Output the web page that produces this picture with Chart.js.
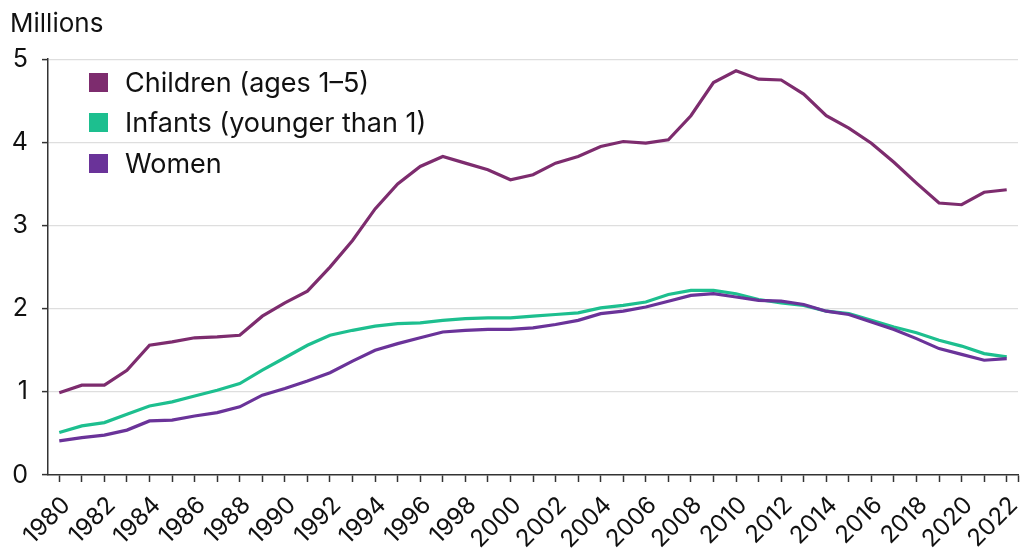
<!DOCTYPE html>
<html>
<head>
<meta charset="utf-8">
<script src="https://cdn.jsdelivr.net/npm/chart.js@4.4.0/dist/chart.umd.min.js"></script>
<style>
  html, body { margin: 0; padding: 0; background: #fff; }
  #wrap { position: relative; width: 1030px; height: 548px; }
  #legend { position: absolute; left: 89px; top: 62px; font-family: Inter, "Noto Sans", sans-serif; font-size: 27px; color: #111; }
  #legend .row { display: flex; align-items: center; height: 40.5px; }
  #legend .sw { width: 19px; height: 19px; margin-right: 17px; }
</style>
</head>
<body>
<div id="wrap">
  <canvas id="myChart"></canvas>
  <div id="legend"></div>
</div>
<script>
const years = [1980, 1981, 1982, 1983, 1984, 1985, 1986, 1987, 1988, 1989,
               1990, 1991, 1992, 1993, 1994, 1995, 1996, 1997, 1998, 1999,
               2000, 2001, 2002, 2003, 2004, 2005, 2006, 2007, 2008, 2009,
               2010, 2011, 2012, 2013, 2014, 2015, 2016, 2017, 2018, 2019,
               2020, 2021, 2022];

const children = [0.99, 1.08, 1.08, 1.26, 1.56, 1.60, 1.65, 1.66, 1.68, 1.91,
                  2.07, 2.21, 2.50, 2.82, 3.20, 3.50, 3.71, 3.83, 3.75, 3.67,
                  3.55, 3.61, 3.75, 3.83, 3.95, 4.01, 3.99, 4.03, 4.32, 4.72,
                  4.86, 4.76, 4.75, 4.58, 4.32, 4.17, 3.99, 3.76, 3.51, 3.27,
                  3.25, 3.40, 3.43];

const infants = [0.51, 0.59, 0.63, 0.73, 0.83, 0.88, 0.95, 1.02, 1.10, 1.26,
                 1.41, 1.56, 1.68, 1.74, 1.79, 1.82, 1.83, 1.86, 1.88, 1.89,
                 1.89, 1.91, 1.93, 1.95, 2.01, 2.04, 2.08, 2.17, 2.22, 2.22,
                 2.18, 2.11, 2.07, 2.04, 1.97, 1.94, 1.86, 1.78, 1.71, 1.62,
                 1.55, 1.46, 1.42];

const women = [0.41, 0.45, 0.48, 0.54, 0.65, 0.66, 0.71, 0.75, 0.82, 0.96,
               1.04, 1.13, 1.23, 1.37, 1.50, 1.58, 1.65, 1.72, 1.74, 1.75,
               1.75, 1.77, 1.81, 1.86, 1.94, 1.97, 2.02, 2.09, 2.16, 2.18,
               2.14, 2.10, 2.09, 2.05, 1.97, 1.93, 1.84, 1.75, 1.64, 1.52,
               1.45, 1.38, 1.40];

const yTicks = [0, 1, 2, 3, 4, 5];

const seriesNames = ['Children (ages 1\u20135)', 'Infants (younger than 1)', 'Women'];
const seriesColors = ['#7d2c6e', '#1dbf8f', '#6a3399'];

const FONT = 'Inter, "Noto Sans", sans-serif';

function points(values) {
    return years.map((yr, i) => ({ x: yr, y: values[i] }));
}

// html legend inside the plot
const legendEl = document.getElementById('legend');
seriesNames.forEach((name, i) => {
    const row = document.createElement('div');
    row.className = 'row';
    const sw = document.createElement('span');
    sw.className = 'sw';
    sw.style.background = seriesColors[i];
    const txt = document.createElement('span');
    txt.textContent = name;
    row.appendChild(sw);
    row.appendChild(txt);
    legendEl.appendChild(row);
});

const ctx = document.getElementById('myChart');

const config = {
    type: 'line',
    data: {
        datasets: [
            { label: seriesNames[0], data: points(children), borderColor: seriesColors[0], order: 0 },
            { label: seriesNames[1], data: points(infants), borderColor: seriesColors[1], order: 2 },
            { label: seriesNames[2], data: points(women), borderColor: seriesColors[2], order: 1 }
        ]
    },
    options: {
        responsive: true,
        maintainAspectRatio: false,
        animation: false,
        elements: {
            line: { borderWidth: 3.2, tension: 0, fill: false },
            point: { radius: 0 }
        },
        layout: { padding: { left: 10, right: 12, top: 0, bottom: 0 } },
        plugins: {
            legend: { display: false },
            tooltip: { enabled: false },
            title: {
                display: true,
                text: 'Millions',
                align: 'start',
                color: '#111',
                font: { family: FONT, size: 26, weight: 'normal' },
                padding: { top: 9, bottom: 19 }
            }
        },
        scales: {
            x: {
                type: 'linear',
                min: 1979.5,
                max: 2022.5,
                afterBuildTicks: (scale) => {
                    scale.ticks = years.map(v => ({ value: v })).concat([{ value: 2022.5 }]);
                },
                afterFit: (scale) => {
                    scale.height = 73;
                    scale.paddingLeft = 0;
                    scale.paddingRight = 0;
                },
                border: { display: true, color: '#333', width: 1.5 },
                grid: {
                    drawOnChartArea: false,
                    drawTicks: true,
                    tickLength: 7,
                    tickColor: '#333',
                    tickWidth: 1.5
                },
                ticks: {
                    autoSkip: false,
                    minRotation: 45,
                    maxRotation: 45,
                    padding: 9,
                    labelOffset: 7,
                    color: '#111',
                    font: { family: FONT, size: 24 },
                    callback: (v) => (Number.isInteger(v) && v % 2 === 0) ? String(v) : ''
                }
            },
            y: {
                min: 0,
                max: 5,
                afterBuildTicks: (scale) => {
                    scale.ticks = yTicks.map(v => ({ value: v }));
                },
                afterFit: (scale) => { scale.width = 38; },
                border: { display: true, color: '#333', width: 1.5 },
                grid: {
                    color: (c) => c.tick && c.tick.value === 0 ? 'rgba(0,0,0,0)' : '#dedede',
                    lineWidth: 1.2,
                    tickLength: 6,
                    tickColor: '#333',
                    tickWidth: 1.5
                },
                ticks: {
                    padding: 14,
                    color: '#111',
                    font: { family: FONT, size: 25 }
                }
            }
        }
    }
};

const myChart = new Chart(ctx, config);
</script>
</body>
</html>
